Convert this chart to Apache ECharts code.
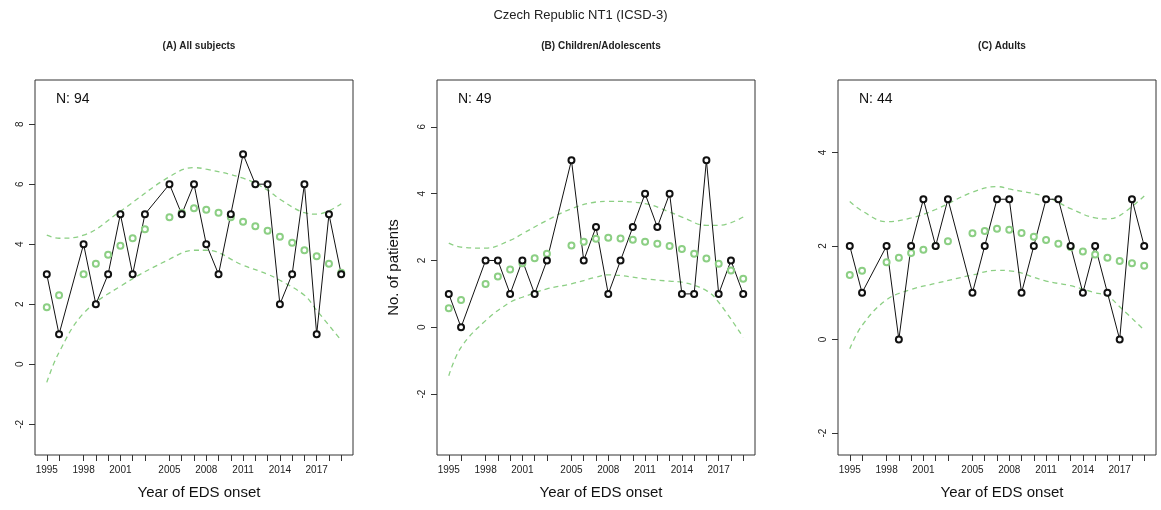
<!DOCTYPE html>
<html>
<head>
<meta charset="utf-8">
<script src="https://cdn.jsdelivr.net/npm/echarts@6/dist/echarts.min.js"></script>
<style>html,body{margin:0;background:#fff}#main{width:1161px;height:510px}</style>
</head>
<body>
<div id="main"></div>
<script>
// years that have data (1997 and 2004 missing)
let years = [1995, 1996, 1998, 1999, 2000, 2001, 2002, 2003, 2005, 2006, 2007, 2008, 2009, 2010, 2011, 2012, 2013, 2014, 2015, 2016, 2017, 2018, 2019];
let labelYears = [1995, 1998, 2001, 2005, 2008, 2011, 2014, 2017];

let allCounts = [3, 1, 4, 2, 3, 5, 3, 5, 6, 5, 6, 4, 3, 5, 7, 6, 6, 2, 3, 6, 1, 5, 3];
let allFit = [1.9, 2.3, 3.0, 3.35, 3.65, 3.95, 4.2, 4.5, 4.9, 5.05, 5.2, 5.15, 5.05, 4.9, 4.75, 4.6, 4.45, 4.25, 4.05, 3.8, 3.6, 3.35, 3.05];
let allBandYears = [1995, 1996, 1998, 2001, 2005, 2007, 2008, 2011, 2013, 2014, 2016, 2017, 2019];
let allUpper = [4.3, 4.2, 4.3, 5.1, 6.25, 6.55, 6.5, 6.2, 5.8, 5.5, 5.05, 5.0, 5.35];
let allLower = [-0.6, 0.4, 1.7, 2.6, 3.5, 3.8, 3.8, 3.3, 3.0, 2.8, 2.3, 1.8, 0.8];

let kidCounts = [1, 0, 2, 2, 1, 2, 1, 2, 5, 2, 3, 1, 2, 3, 4, 3, 4, 1, 1, 5, 1, 2, 1];
let kidFit = [0.57, 0.82, 1.3, 1.52, 1.73, 1.92, 2.07, 2.2, 2.45, 2.56, 2.65, 2.68, 2.66, 2.62, 2.56, 2.5, 2.43, 2.34, 2.2, 2.06, 1.9, 1.7, 1.45];
let kidBandYears = [1995, 1996, 1998, 2000, 2001, 2003, 2005, 2007, 2008, 2011, 2013, 2014, 2016, 2017, 2019];
let kidUpper = [2.52, 2.4, 2.37, 2.6, 2.8, 3.2, 3.55, 3.75, 3.77, 3.7, 3.45, 3.3, 3.05, 3.05, 3.3];
let kidLower = [-1.45, -0.6, 0.2, 0.75, 0.9, 1.15, 1.3, 1.5, 1.57, 1.45, 1.38, 1.35, 1.1, 0.75, -0.3];

let adultCounts = [2, 1, 2, 0, 2, 3, 2, 3, 1, 2, 3, 3, 1, 2, 3, 3, 2, 1, 2, 1, 0, 3, 2];
let adultFit = [1.38, 1.47, 1.65, 1.75, 1.85, 1.92, 2.0, 2.1, 2.27, 2.32, 2.37, 2.35, 2.28, 2.2, 2.13, 2.05, 1.98, 1.88, 1.82, 1.75, 1.68, 1.63, 1.58];
let adultBandYears = [1995, 1996, 1998, 2000, 2002, 2005, 2007, 2008, 2011, 2013, 2015, 2016, 2017, 2019];
let adultUpper = [2.95, 2.75, 2.52, 2.6, 2.78, 3.15, 3.27, 3.22, 3.05, 2.8, 2.6, 2.58, 2.65, 3.07];
let adultLower = [-0.2, 0.3, 0.85, 1.07, 1.2, 1.38, 1.48, 1.47, 1.25, 1.15, 1.0, 0.93, 0.7, 0.2];

let panels = [
    { sub: '(A) All subjects', n: 'N: 94', left: 35, min: -3.02, max: 9.47, ticks: [-2, 0, 2, 4, 6, 8], counts: allCounts, fit: allFit, bandYears: allBandYears, upper: allUpper, lower: allLower },
    { sub: '(B) Children/Adolescents', n: 'N: 49', left: 437, min: -3.82, max: 7.4, ticks: [-2, 0, 2, 4, 6], counts: kidCounts, fit: kidFit, bandYears: kidBandYears, upper: kidUpper, lower: kidLower },
    { sub: '(C) Adults', n: 'N: 44', left: 838, min: -2.47, max: 5.55, ticks: [-2, 0, 2, 4], counts: adultCounts, fit: adultFit, bandYears: adultBandYears, upper: adultUpper, lower: adultLower }
];

let font = 'Liberation Sans, Arial, sans-serif';
let green = '#8ccf84';
let pw = 318;

let option = {
    animation: false,
    textStyle: { fontFamily: font },
    title: [{ text: 'Czech Republic NT1 (ICSD-3)', left: 'center', top: 4, textStyle: { fontSize: 13, fontWeight: 'normal', color: '#222' } }],
    grid: [],
    xAxis: [],
    yAxis: [],
    series: []
};

panels.forEach(function (p, i) {
    option.title.push({ text: p.sub, left: p.left + pw / 2, top: 36, textAlign: 'center', textStyle: { fontSize: 10, fontWeight: 'bold', color: '#222' } });
    option.title.push({ text: p.n, left: p.left + 16, top: 87, textStyle: { fontSize: 14, fontWeight: 'normal', color: '#111' } });
    option.title.push({ text: 'Year of EDS onset', left: p.left + pw / 2, top: 480, textAlign: 'center', textStyle: { fontSize: 15, fontWeight: 'normal', color: '#111' } });
    option.grid.push({ left: p.left, top: 80, width: pw, height: 375, show: true, borderColor: '#333', borderWidth: 1, backgroundColor: 'transparent' });
    option.xAxis.push({
        type: 'value', gridIndex: i, min: 1994.04, max: 2019.96, position: 'bottom',
        axisLine: { show: false, onZero: false },
        splitLine: { show: false },
        axisTick: { show: true, length: 6, customValues: years, lineStyle: { color: '#333' } },
        axisLabel: { customValues: labelYears, color: '#222', fontSize: 10, margin: 10, formatter: function (v) { return String(v); } }
    });
    option.yAxis.push({
        type: 'value', gridIndex: i, min: p.min, max: p.max, position: 'left',
        name: i === 1 ? 'No. of patients' : '', nameLocation: 'middle', nameGap: 36, nameRotate: 90,
        nameTextStyle: { fontSize: 15, color: '#111' },
        axisLine: { show: false, onZero: false },
        splitLine: { show: false },
        axisTick: { show: true, length: 6, customValues: p.ticks, lineStyle: { color: '#333' } },
        axisLabel: { customValues: p.ticks, rotate: 90, color: '#222', fontSize: 10, margin: 10, formatter: function (v) { return String(v); } }
    });
    let xy = function (xs, ys) { return xs.map(function (x, k) { return [x, ys[k]]; }); };
    option.series.push({
        type: 'line', xAxisIndex: i, yAxisIndex: i, smooth: 0.4, symbol: 'none',
        data: xy(p.bandYears, p.upper), lineStyle: { color: green, width: 1.3, type: [5, 4] }
    });
    option.series.push({
        type: 'line', xAxisIndex: i, yAxisIndex: i, smooth: 0.4, symbol: 'none',
        data: xy(p.bandYears, p.lower), lineStyle: { color: green, width: 1.3, type: [5, 4] }
    });
    option.series.push({
        type: 'line', xAxisIndex: i, yAxisIndex: i, symbol: 'emptyCircle', symbolSize: 6,
        data: xy(years, p.fit), lineStyle: { width: 0 }, itemStyle: { color: green, borderWidth: 1 }
    });
    option.series.push({
        type: 'line', xAxisIndex: i, yAxisIndex: i, symbol: 'emptyCircle', symbolSize: 6,
        data: xy(years, p.counts), lineStyle: { color: '#111', width: 1 }, itemStyle: { color: '#111', borderWidth: 1 }
    });
});

let chart = echarts.init(document.getElementById('main'));
chart.setOption(option);
</script>
</body>
</html>
